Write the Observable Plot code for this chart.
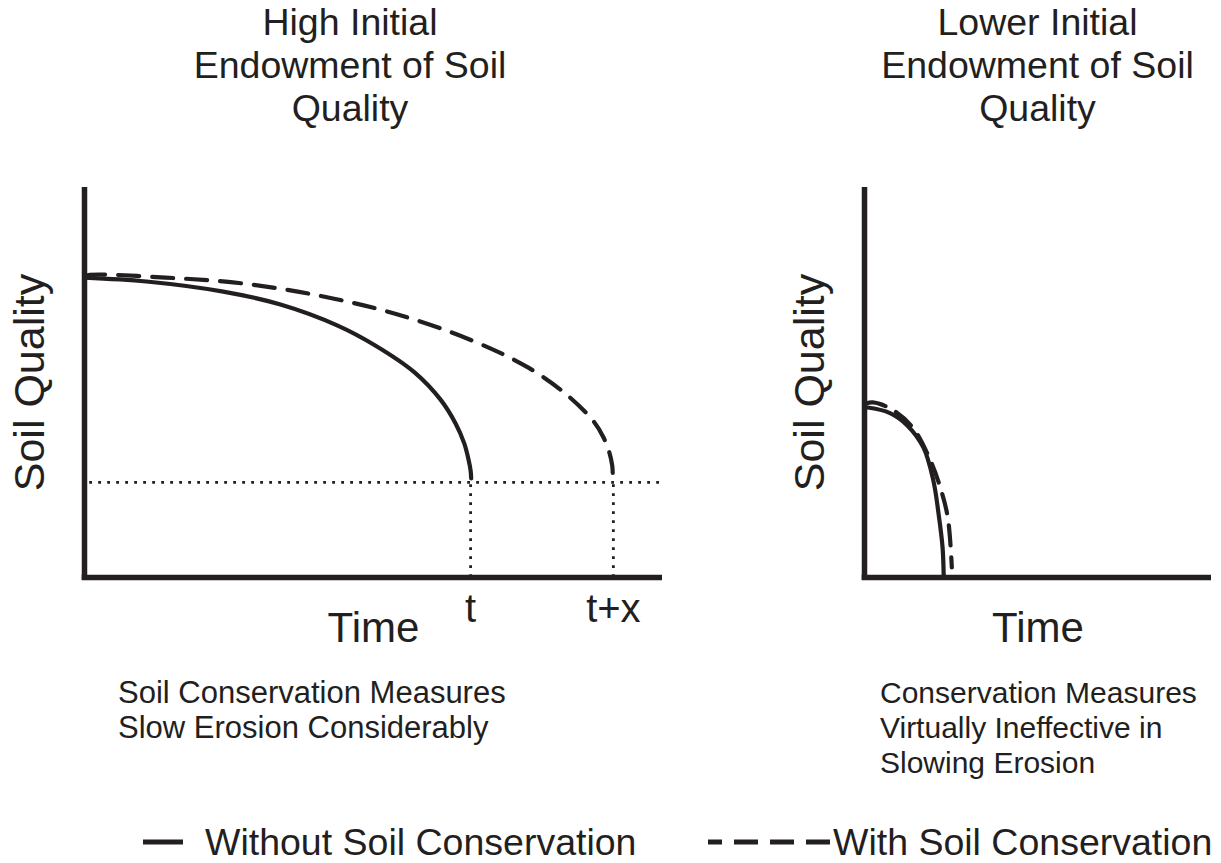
<!DOCTYPE html>
<html>
<head>
<meta charset="utf-8">
<script src="https://cdn.jsdelivr.net/npm/d3@7"></script>
<script src="https://cdn.jsdelivr.net/npm/@observablehq/plot@0.6"></script>
<style>
  html, body { margin: 0; padding: 0; background: #fff; }
  #page { position: relative; width: 1221px; height: 863px; overflow: hidden; font-family: "Liberation Sans", Arial, sans-serif; color: #231f20; }
  .abs { position: absolute; }
  .title { font-size: 37.5px; line-height: 43px; text-align: center; width: 420px; }
  .caption { font-size: 31px; line-height: 35px; white-space: nowrap; }
  .legend { font-size: 37.5px; line-height: 43px; white-space: nowrap; }
</style>
</head>
<body>
<div id="page"></div>
<script>
// ---------- data ----------
const titleLeft = ["High Initial", "Endowment of Soil", "Quality"];
const titleRight = ["Lower Initial", "Endowment of Soil", "Quality"];
const captionLeft = ["Soil Conservation Measures", "Slow Erosion Considerably"];
const captionRight = ["Conservation Measures", "Virtually Ineffective in", "Slowing Erosion"];
const yLabel = "Soil Quality";
const xLabel = "Time";
const seriesNames = ["Without Soil Conservation", "With Soil Conservation"];

// High initial endowment panel (time, soil quality in arbitrary units)
const highWithoutX = [0, 10.7, 24.0, 33.9, 43.8, 50.3, 57.1, 61.6, 64.2, 65.7, 66.4, 66.8, 66.9];
const highWithoutY = [76.9, 75.9, 73.3, 70.0, 64.6, 59.5, 52.6, 45.6, 39.5, 34.4, 30.5, 27.4, 25.4];
const highWithX = [0, 0.9, 14.0, 27.3, 40.5, 53.6, 67.0, 76.8, 83.4, 88.1, 89.8, 90.8, 91.3, 91.4];
const highWithY = [77.2, 77.6, 76.9, 75.4, 72.3, 67.7, 60.8, 53.8, 46.9, 40.0, 35.9, 32.1, 28.7, 26.2];
const thresholdY = 24.4;          // critical soil quality level
const tickValues = [66.8, 91.5];  // t and t+x
const tickLabels = ["t", "t+x"];

// Lower initial endowment panel
const lowWithoutX = [0, 0.5, 4.5, 7.4, 10.2, 11.9, 12.8, 13.5, 13.7];
const lowWithoutY = [43.6, 43.6, 42.1, 39.0, 33.3, 24.9, 16.4, 7.7, 0.0];
const lowWithX = [0.3, 1.4, 4.5, 8.3, 11.4, 13.1, 14.4, 15.1];
const lowWithY = [44.6, 44.9, 43.3, 38.5, 30.0, 23.1, 15.4, 2.6];

// ---------- helpers ----------
const zip = (xs, ys) => xs.map((x, i) => ({x, y: ys[i]}));
const page = document.getElementById("page");

function addText(lines, cls, left, top, extra = {}) {
  const d = document.createElement("div");
  d.className = "abs " + cls;
  d.style.left = left + "px";
  d.style.top = top + "px";
  Object.assign(d.style, extra);
  d.innerHTML = lines.map(l => `<div>${l}</div>`).join("");
  page.appendChild(d);
  return d;
}

const ink = "#231f20";
const common = {
  height: 517,
  marginTop: 27,
  marginBottom: 100,
  marginLeft: 84,
  style: {fontFamily: "Liberation Sans, Arial, sans-serif", color: ink, background: "transparent", overflow: "visible"},
  y: {domain: [0, 100], axis: null}
};

function panel({xDomain, width, marginRight, without, withC, ticks, labels, guides, dash}) {
  const marks = [];
  if (guides) {
    marks.push(Plot.ruleY([thresholdY], {x1: 0.9, x2: xDomain[1], stroke: ink, strokeWidth: 2.8, strokeDasharray: "2.8,6.2"}));
    marks.push(Plot.ruleX(ticks, {y1: 0, y2: thresholdY, stroke: ink, strokeWidth: 2.8, strokeDasharray: "2.8,6.2"}));
  }
  marks.push(
    Plot.line(without, {x: "x", y: "y", stroke: ink, strokeWidth: 4.2, curve: "catmull-rom"}),
    Plot.line(withC, {x: "x", y: "y", stroke: ink, strokeWidth: 4.2, strokeDasharray: dash, curve: "catmull-rom"}),
    Plot.ruleX([0], {y1: -0.7, y2: 100, stroke: ink, strokeWidth: 5.5}),
    Plot.ruleY([0], {x1: xDomain[0] - 0.4, x2: xDomain[1], stroke: ink, strokeWidth: 5.5}),
    Plot.text([yLabel], {frameAnchor: "left", textAnchor: "middle", lineAnchor: "middle", rotate: -90, dx: -54, fontSize: 43, fill: ink}),
    Plot.text([xLabel], {frameAnchor: "bottom", dy: 64, fontSize: 42, fill: ink})
  );
  if (ticks) {
    marks.push(Plot.axisX(ticks, {tickSize: 0, tickPadding: 16, fontSize: 40, tickFormat: (d, i) => labels[i], label: null, color: ink}));
  } else {
    marks.push(Plot.axisX([], {label: null}));
  }
  return Plot.plot({
    ...common,
    width,
    marginRight,
    x: {domain: xDomain},
    marks
  });
}

const left = panel({
  xDomain: [0, 100], width: 700, marginRight: 38,
  without: zip(highWithoutX, highWithoutY), withC: zip(highWithX, highWithY),
  ticks: tickValues, labels: tickLabels, guides: true, dash: "21,13"
});
left.style.position = "absolute"; left.style.left = "0px"; left.style.top = "160px";
page.appendChild(left);

const right = panel({
  xDomain: [0, 60], width: 441, marginRight: 10,
  without: zip(lowWithoutX, lowWithoutY), withC: zip(lowWithX, lowWithY),
  ticks: null, labels: null, guides: false, dash: "20,12"
});
right.style.position = "absolute"; right.style.left = "780px"; right.style.top = "160px";
page.appendChild(right);

// titles
addText(titleLeft, "title", 350 - 210, 0.5);
addText(titleRight, "title", 1037.5 - 210, 0.5);
// captions
addText(captionLeft, "caption", 118, 674.5);
addText(captionRight, "caption", 880, 674.5, {fontSize: "30px"});

// legend
const ns = "http://www.w3.org/2000/svg";
const lg = document.createElementNS(ns, "svg");
lg.setAttribute("width", 1221); lg.setAttribute("height", 60);
lg.style.position = "absolute"; lg.style.left = "0px"; lg.style.top = "812px";
lg.innerHTML = `<line x1="143" x2="183" y1="30" y2="30" stroke="${ink}" stroke-width="4.8"/>
<line x1="708" x2="830" y1="30" y2="30" stroke="${ink}" stroke-width="4.8" stroke-dasharray="24,12" stroke-dashoffset="10"/>`;
page.appendChild(lg);
addText([seriesNames[0]], "legend", 205, 820.5);
addText([seriesNames[1]], "legend", 833, 820.5);
</script>
</body>
</html>
